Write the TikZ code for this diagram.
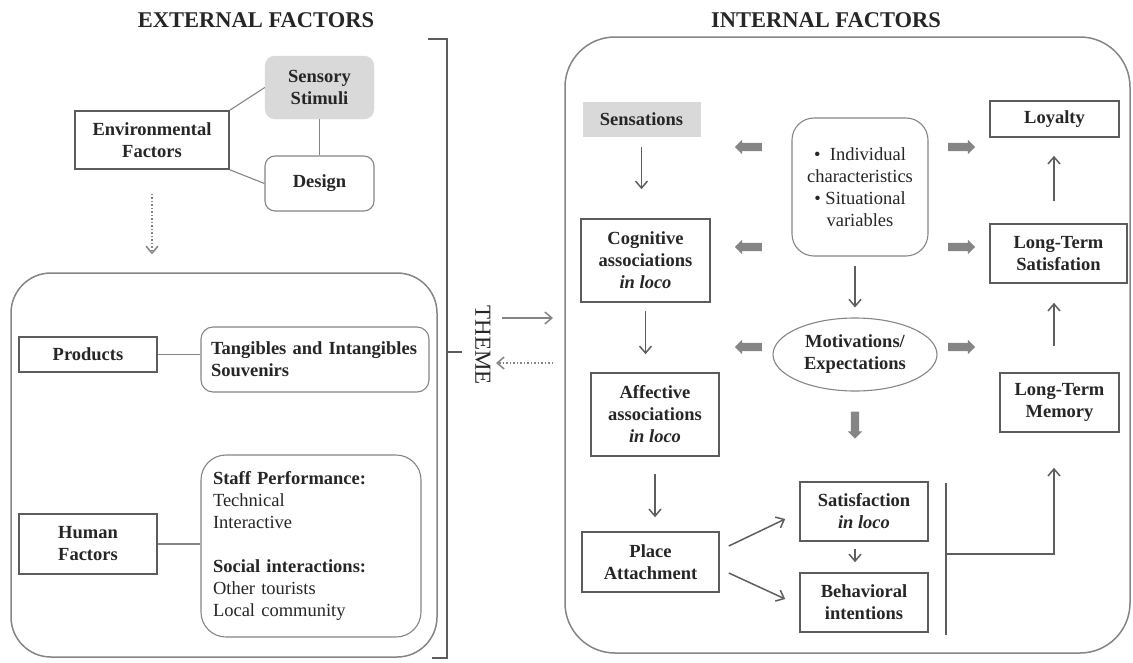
\documentclass[tikz,border=0pt]{standalone}
\usepackage{fontspec}
\setmainfont{Liberation Serif}
\usepackage{tikz}
\usetikzlibrary{arrows.meta,positioning,shapes.geometric,shapes.arrows}
\definecolor{inkgray}{HTML}{262626}
\definecolor{boxline}{HTML}{5C5C5C}
\definecolor{softline}{HTML}{858585}
\definecolor{arrowgray}{HTML}{5E5E5E}
\definecolor{blockgray}{HTML}{858585}
\definecolor{shadefill}{HTML}{D9D9D9}
\newcommand{\boxsize}{\fontsize{18.5}{22}\selectfont}
\tikzset{
  factor/.style={draw=boxline, line width=1.6pt, align=center, fill=white, inner sep=2pt, font=\boxsize\bfseries},
  softbox/.style={draw=softline, line width=1.1pt, rounded corners=10pt, align=center, fill=white, inner sep=2pt, font=\boxsize\bfseries},
  shaded/.style={fill=shadefill, draw=shadefill, align=center, inner sep=2pt, font=\boxsize\bfseries},
  panel/.style={draw=softline, line width=1.5pt},
  link/.style={draw=softline, line width=1.1pt},
  arrow/.style={-{Straight Barb[length=7pt,width=12pt]}, line width=1.5pt, draw=arrowgray},
  dottedarrow/.style={-{Straight Barb[length=7pt,width=12pt]}, line width=1.5pt, dotted, draw=softline},
  blockarrow/.style={single arrow, fill=blockgray, draw=none, inner sep=4pt, minimum height=27pt, single arrow head extend=3pt},
  heading/.style={font=\fontsize{22.5}{26}\selectfont\bfseries}
}

\begin{document}
\begin{tikzpicture}[x=1pt, y=-1pt, font=\boxsize, text=inkgray]
  \useasboundingbox (0,0) rectangle (1133,662);

  \node[heading] (exttitle) at (256,20) {EXTERNAL FACTORS};
  \node[heading] (inttitle) at (826,20) {INTERNAL FACTORS};

  \node[factor, minimum width=154pt, minimum height=58pt] (envf) at (152,140) {Environmental\\Factors};
  \node[shaded, rounded corners=10pt, minimum width=109pt, minimum height=63pt] (sensory) at (319.5,87.5) {Sensory\\Stimuli};
  \node[softbox, minimum width=109pt, minimum height=55pt] (design) at (319.5,183.5) {Design};
  \draw[link] (envf.north east) -- (sensory.west);
  \draw[link] (envf.south east) -- (design.west);
  \draw[link] (sensory) -- (design);

  \node[panel, rounded corners=40pt, minimum width=426pt, minimum height=384pt] (extpanel) at (224,465) {};
  \draw[dottedarrow, shorten <=24pt, shorten >=18pt] (envf.south) -- (envf.south |- extpanel.north);

  \node[factor, minimum width=138pt, minimum height=35pt] (products) at (88,354.5) {Products};
  \node[softbox, rounded corners=12pt, minimum height=65pt, inner xsep=10pt, text width=208pt, align=left] (tangibles) at (315,359.5) {Tangibles and Intangibles\\Souvenirs};
  \node[factor, minimum width=138pt, minimum height=60pt] (human) at (88,544) {Human\\Factors};
  \node[softbox, rounded corners=25pt, minimum height=182pt, inner xsep=12pt, text width=196pt, align=left, font=\boxsize\mdseries] (staff) at (311,546)
    {\textbf{Staff Performance:}\\Technical\\Interactive\\[22pt]\textbf{Social interactions:}\\Other tourists\\Local community};
  \draw[link] (products.east) -- (products.east -| tangibles.west);
  \draw[link] (human.east) -- (human.east -| staff.west);

  \draw[panel, draw=boxline] (428,39) -- (447,39) -- (447,658) -- (432,658);
  \draw[panel, draw=boxline] (447,352) -- (462,352);
  \node[rotate=-90, font=\fontsize{23}{26}\selectfont] (theme) at (483,345) {THEME};
  \coordinate (themeout) at (502,318);
  \coordinate (intin) at (553,318);
  \coordinate (intout) at (553,363);
  \coordinate (themein) at (496,363);
  \draw[arrow, draw=softline] (themeout) -- (intin);
  \draw[dottedarrow] (intout) -- (themein);

  \node[panel, rounded corners=50pt, minimum width=565pt, minimum height=616pt] (intpanel) at (847.5,345) {};

  \node[shaded, minimum width=117pt, minimum height=34pt] (sensations) at (641.5,119) {Sensations};
  \node[factor, minimum width=129pt, minimum height=83pt] (cogn) at (645.5,260.5) {Cognitive\\associations\\\textit{in loco}};
  \node[factor, minimum width=128pt, minimum height=83pt] (affect) at (655,414.5) {Affective\\associations\\\textit{in loco}};
  \node[factor, minimum width=137pt, minimum height=60pt] (place) at (650.5,562) {Place\\Attachment};
  \node[softbox, rounded corners=22pt, minimum width=136pt, minimum height=138pt, font=\boxsize\mdseries] (indiv) at (860,187)
    {\textbullet\ \ Individual\\characteristics\\\textbullet\ Situational\\variables};
  \node[ellipse, draw=softline, line width=1.1pt, minimum width=164pt, minimum height=73pt, inner sep=0pt, align=center, font=\boxsize\bfseries] (motiv) at (855,354.5) {Motivations/\\Expectations};
  \node[factor, minimum width=128pt, minimum height=59pt] (satis) at (864,511.5) {Satisfaction\\\textit{in loco}};
  \node[factor, minimum width=128pt, minimum height=59pt] (behav) at (864,602.5) {Behavioral\\intentions};
  \node[factor, minimum width=129pt, minimum height=36pt] (loyalty) at (1054.5,119) {Loyalty};
  \node[factor, minimum width=137pt, minimum height=59pt] (lts) at (1058.5,253.5) {Long-Term\\Satisfation};
  \node[factor, minimum width=119pt, minimum height=59pt] (ltm) at (1059.5,402.5) {Long-Term\\Memory};

  \foreach \yy in {147,247,347}{
    \node[blockarrow, shape border rotate=180] (lblk\yy) at (750.5,\yy) {};
    \node[blockarrow] (rblk\yy) at (959.5,\yy) {};
  }
  \node[blockarrow, shape border rotate=270] (dblk) at (855,423) {};

  \draw[arrow, shorten <=11pt, shorten >=29pt] (sensations.south) -- (sensations.south |- cogn.north);
  \draw[arrow, shorten <=8pt, shorten >=18pt] (cogn.south) -- (cogn.south |- affect.north);
  \draw[arrow, shorten <=17pt, shorten >=14pt] (affect.south) -- (affect.south |- place.north);
  \draw[arrow, shorten <=9pt, shorten >=10pt] (motiv.north |- indiv.south) -- (motiv.north);
  \draw[arrow, shorten <=7pt, shorten >=10pt] ([xshift=-9pt]satis.south) -- ([xshift=-9pt]behav.north);
  \draw[arrow] ([xshift=9pt,yshift=16pt]place.east) -- ([xshift=-14pt,yshift=-7.5pt]satis.west);
  \draw[arrow] ([xshift=9pt,yshift=-11pt]place.east) -- ([xshift=-14pt,yshift=3.5pt]behav.west);

  \coordinate (bartop) at (946,483);
  \coordinate (barbot) at (946,635);
  \coordinate (barmid) at (946,554);
  \draw[link, draw=boxline, line width=1.6pt] (bartop) -- (barbot);
  \draw[arrow] (barmid) -| ([xshift=-5.5pt,yshift=-35pt]ltm.south);
  \draw[arrow, shorten <=26pt, shorten >=19pt] ([xshift=-5.5pt]ltm.north) -- ([xshift=-5.5pt]ltm.north |- lts.south);
  \draw[arrow, shorten <=22pt, shorten >=18pt] ([xshift=-4.5pt]lts.north) -- ([xshift=-4.5pt]lts.north |- loyalty.south);
\end{tikzpicture}
\end{document}
